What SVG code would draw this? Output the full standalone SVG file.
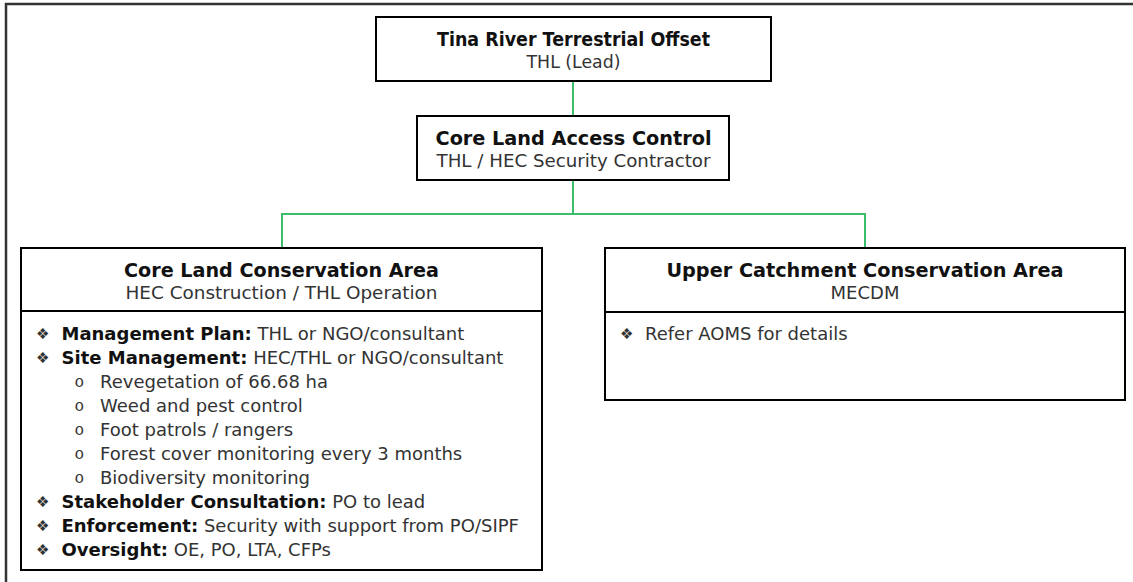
<svg xmlns="http://www.w3.org/2000/svg" width="1133" height="582" viewBox="0 0 1133 582">
  <style>
    .frame { fill: none; stroke: #333; stroke-width: 2.5; }
    .box { fill: #fff; stroke: #000; stroke-width: 2; }
    .rule { stroke: #000; stroke-width: 2; }
    .link { fill: none; stroke: #3dbd6b; stroke-width: 2; }
    text { font-family: "DejaVu Sans", "Liberation Sans", sans-serif; }
    .title { font-size: 19.25px; font-weight: bold; fill: #111; text-anchor: middle; }
    .sub { font-size: 18px; fill: #333; text-anchor: middle; }
    .item { font-size: 18px; fill: #333; }
    .item .k { font-weight: bold; fill: #111; }
    .bul { font-size: 15px; fill: #333; }
    .dot { font-family: "Liberation Mono", monospace; font-size: 16px; fill: #333; }
  </style>

  <!-- page frame (runs past the right and bottom edges) -->
  <rect class="frame" x="6" y="4" width="1140" height="600"/>

  <!-- connectors -->
  <g id="connectors">
    <path class="link" d="M573,81 V116"/>
    <path class="link" d="M573,180 V214"/>
    <path class="link" d="M282,248 V214 H865 V248"/>
  </g>

  <!-- Tina River Terrestrial Offset -->
  <g id="node-offset">
    <rect class="box" x="376" y="17" width="395" height="64"/>
    <text class="title" x="573.5" y="45.5" textLength="273" lengthAdjust="spacingAndGlyphs">Tina River Terrestrial Offset</text>
    <text class="sub" x="573.5" y="67.5" textLength="94" lengthAdjust="spacingAndGlyphs">THL (Lead)</text>
  </g>

  <!-- Core Land Access Control -->
  <g id="node-access">
    <rect class="box" x="417" y="116" width="312" height="64"/>
    <text class="title" x="573.5" y="144.5" textLength="276" lengthAdjust="spacingAndGlyphs">Core Land Access Control</text>
    <text class="sub" x="573.5" y="166.5" textLength="274" lengthAdjust="spacingAndGlyphs">THL / HEC Security Contractor</text>
  </g>

  <!-- Core Land Conservation Area -->
  <g id="node-core">
    <rect class="box" x="21" y="248" width="521" height="322"/>
    <line class="rule" x1="21" y1="311" x2="542" y2="311"/>
    <text class="title" x="281.5" y="276.5" textLength="315" lengthAdjust="spacingAndGlyphs">Core Land Conservation Area</text>
    <text class="sub" x="281.5" y="299" textLength="312" lengthAdjust="spacingAndGlyphs">HEC Construction / THL Operation</text>

    <text class="bul" x="36" y="339">❖</text>
    <text class="item" x="61.5" y="340"><tspan class="k">Management Plan:</tspan> THL or NGO/consultant</text>
    <text class="bul" x="36" y="363">❖</text>
    <text class="item" x="61.5" y="364"><tspan class="k">Site Management:</tspan> HEC/THL or NGO/consultant</text>

    <text class="dot" x="74.5" y="387">o</text>
    <text class="item" x="100" y="388">Revegetation of 66.68 ha</text>
    <text class="dot" x="74.5" y="411">o</text>
    <text class="item" x="100" y="412">Weed and pest control</text>
    <text class="dot" x="74.5" y="435">o</text>
    <text class="item" x="100" y="436">Foot patrols / rangers</text>
    <text class="dot" x="74.5" y="459">o</text>
    <text class="item" x="100" y="460">Forest cover monitoring every 3 months</text>
    <text class="dot" x="74.5" y="483">o</text>
    <text class="item" x="100" y="484">Biodiversity monitoring</text>

    <text class="bul" x="36" y="507">❖</text>
    <text class="item" x="61.5" y="508"><tspan class="k">Stakeholder Consultation:</tspan> PO to lead</text>
    <text class="bul" x="36" y="531">❖</text>
    <text class="item" x="61.5" y="532"><tspan class="k">Enforcement:</tspan> Security with support from PO/SIPF</text>
    <text class="bul" x="36" y="555">❖</text>
    <text class="item" x="61.5" y="556"><tspan class="k">Oversight:</tspan> OE, PO, LTA, CFPs</text>
  </g>

  <!-- Upper Catchment Conservation Area -->
  <g id="node-upper">
    <rect class="box" x="605" y="248" width="520" height="152"/>
    <line class="rule" x1="605" y1="312" x2="1125" y2="312"/>
    <text class="title" x="865" y="276.5">Upper Catchment Conservation Area</text>
    <text class="sub" x="865" y="299">MECDM</text>
    <text class="bul" x="620" y="339">❖</text>
    <text class="item" x="645" y="340">Refer AOMS for details</text>
  </g>
</svg>
